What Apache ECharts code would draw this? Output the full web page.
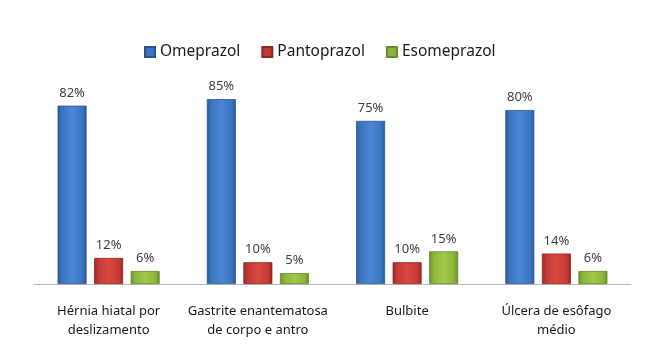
<!DOCTYPE html>
<html>
<head>
<meta charset="utf-8">
<script src="https://cdn.jsdelivr.net/npm/echarts@6/dist/echarts.min.js"></script>
<style>html,body{margin:0;padding:0;background:#fff}#c{width:650px;height:347px}</style>
</head>
<body>
<div id="c"></div>
<script>
var categories = ['Hérnia hiatal por\ndeslizamento', 'Gastrite enantematosa\nde corpo e antro', 'Bulbite', 'Úlcera de esôfago\nmédio'];
var seriesNames = ['Omeprazol', 'Pantoprazol', 'Esomeprazol'];
var omeprazol = [82, 85, 75, 80];
var pantoprazol = [12, 10, 10, 14];
var esomeprazol = [6, 5, 15, 6];

var FONT = '"Noto Sans", sans-serif';
function grad(dark, mid, light) {
  return new echarts.graphic.LinearGradient(0, 0, 1, 0, [
    {offset: 0, color: dark},
    {offset: 0.15, color: mid},
    {offset: 0.5, color: light},
    {offset: 0.85, color: mid},
    {offset: 1, color: dark}
  ]);
}
var styles = [
  {color: grad('#2c5a98', '#3b75c2', '#4a86d4'), border: '#2b5590', legend: '#3b73be'},
  {color: grad('#962824', '#c43a35', '#d8493f'), border: '#8e2623', legend: '#c03a35'},
  {color: grad('#6a8d28', '#8db53b', '#a0c84a'), border: '#66882a', legend: '#8ab33b'}
];
var data = [omeprazol, pantoprazol, esomeprazol];
var series = data.map(function (d, i) {
  return {
    name: seriesNames[i],
    type: 'bar',
    data: d,
    barWidth: 29,
    barGap: '26%',
    itemStyle: {color: styles[i].color, borderColor: styles[i].border, borderWidth: 0.8},
    label: {
      show: true, position: 'top', distance: 6,
      formatter: '{c}%', color: '#404040', fontFamily: FONT, fontSize: 13
    }
  };
});
var chart = echarts.init(document.getElementById('c'));
chart.setOption({
  animation: false,
  color: styles.map(function (s) { return s.legend; }),
  legend: {
    data: seriesNames.map(function (n, i) { return {name: n, itemStyle: {color: styles[i].legend}}; }),
    left: 139, top: 39,
    icon: 'rect', itemWidth: 10, itemHeight: 10, itemGap: 21,
    textStyle: {fontFamily: FONT, fontSize: 15.5, color: '#1a1a1a'}
  },
  grid: {left: 34, right: 19, top: 66.5, bottom: 63, containLabel: false},
  xAxis: {
    type: 'category', data: categories,
    axisLine: {lineStyle: {color: '#b8b8b8', width: 1}},
    axisTick: {show: false},
    axisLabel: {fontFamily: FONT, fontSize: 13, color: '#1a1a1a', lineHeight: 19, margin: 18, interval: 0}
  },
  yAxis: {type: 'value', min: 0, max: 100, show: false, splitLine: {show: false}},
  series: series
});
</script>
</body>
</html>
